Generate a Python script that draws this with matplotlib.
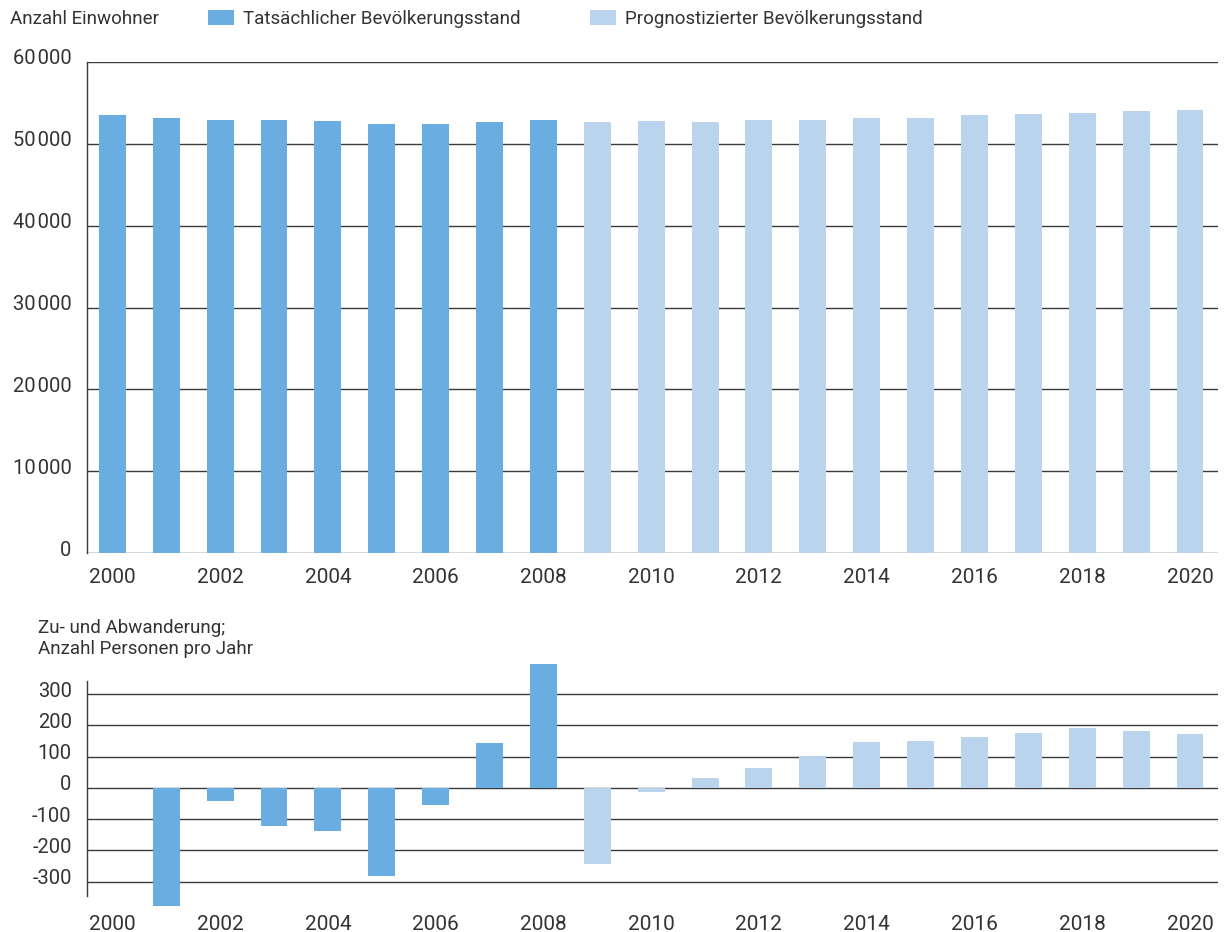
import matplotlib
matplotlib.use('Agg')
import matplotlib.pyplot as plt
from matplotlib.ticker import FuncFormatter
from matplotlib.transforms import ScaledTranslation

plt.rcParams['font.family'] = ['Roboto', 'DejaVu Sans']

# data
years_actual = list(range(2000, 2009))
years_forecast = list(range(2009, 2021))
pop_actual = [53540, 53170, 52930, 52930, 52800, 52440, 52440, 52680, 52930]
pop_forecast = [52680, 52800, 52680, 52930, 52930, 53170, 53170, 53540,
                53660, 53780, 54020, 54150]
mig_actual = [0, -379, -42, -122, -139, -282, -54, 143, 396]
mig_forecast = [-244, -13, 32, 64, 102, 147, 151, 163, 176, 192, 183, 173]

pop_ticks = [0, 10000, 20000, 30000, 40000, 50000, 60000]
mig_ticks = [-300, -200, -100, 0, 100, 200, 300]
year_ticks = list(range(2000, 2021, 2))

c_actual = '#6aade0'
c_forecast = '#bbd4ed'
c_text = '#333333'
c_grid = '#3a3a3a'

W, H = 1227, 932
fig = plt.figure(figsize=(W / 100, H / 100), dpi=100)
ax1 = fig.add_axes([87 / W, 1 - 553 / H, (1218 - 87) / W, (553 - 62) / H])
ax2 = fig.add_axes([87 / W, 1 - 896 / H, (1218 - 87) / W, (896 - 681) / H])

lift = ScaledTranslation(0, 5 / 100, fig.dpi_scale_trans)


def thin(v, pos):
    return f'{int(v):,}'.replace(',', '\u200a')


def style(ax, yticks):
    ax.set_axisbelow(True)
    for s in ['top', 'right', 'bottom']:
        ax.spines[s].set_visible(False)
    ax.spines['left'].set_color(c_grid)
    ax.spines['left'].set_linewidth(1.0)
    ax.set_yticks(yticks)
    ax.set_xticks(year_ticks)
    ax.yaxis.set_major_formatter(FuncFormatter(thin))
    ax.tick_params(axis='both', length=0, colors=c_text)
    ax.tick_params(axis='x', labelsize=15)
    ax.tick_params(axis='y', pad=11, labelsize=14.5)
    ax.grid(axis='y', color=c_grid, lw=1.0)
    ax.set_xlim(1999.53, 2020.52)
    for lab in ax.get_yticklabels():
        lab.set_transform(lab.get_transform() + lift)


b1 = ax1.bar(years_actual, pop_actual, width=0.5, color=c_actual, zorder=2)
b2 = ax1.bar(years_forecast, pop_forecast, width=0.5, color=c_forecast, zorder=2)
ax1.set_ylim(0, 60000)
style(ax1, pop_ticks)
ax1.tick_params(axis='x', pad=11)

ax2.bar(years_actual, mig_actual, width=0.5, color=c_actual, zorder=2, clip_on=False)
ax2.bar(years_forecast, mig_forecast, width=0.5, color=c_forecast, zorder=2, clip_on=False)
ax2.set_ylim(-346, 342)
style(ax2, mig_ticks)
ax2.tick_params(axis='x', pad=14)

fs = 13.5
fig.text(10 / W, 1 - 19 / H, 'Anzahl Einwohner', fontsize=fs, color=c_text,
         ha='left', va='center')
fig.legend([b1, b2], ['Tatsächlicher Bevölkerungsstand', 'Prognostizierter Bevölkerungsstand'],
           loc='center left', bbox_to_anchor=(208 / W, 1 - 19 / H), ncol=2,
           frameon=False, fontsize=fs, handlelength=1.39, handleheight=0.85,
           handletextpad=0.48, columnspacing=3.7, borderpad=0, borderaxespad=0,
           labelcolor=c_text)
fig.text(38 / W, 1 - 628 / H, 'Zu- und Abwanderung;', fontsize=fs, color=c_text,
         ha='left', va='center')
fig.text(38 / W, 1 - 649 / H, 'Anzahl Personen pro Jahr', fontsize=fs, color=c_text,
         ha='left', va='center')

fig.savefig('out.png', dpi=100)
